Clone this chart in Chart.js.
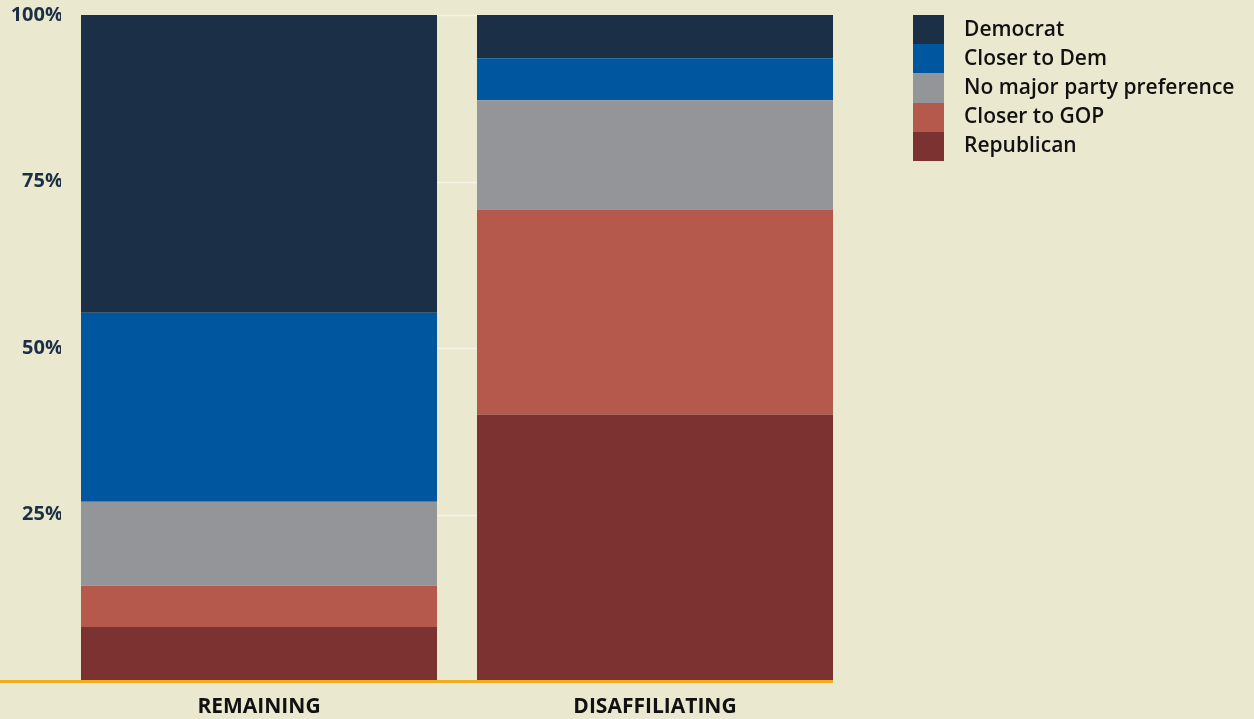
<!DOCTYPE html>
<html>
<head>
<meta charset="utf-8">
<script src="https://cdn.jsdelivr.net/npm/chart.js@4/dist/chart.umd.min.js"></script>
<style>
  html, body { margin: 0; padding: 0; background: #eae8cf; }
  #wrap { position: relative; width: 1254px; height: 719px; }
  #c { position: absolute; left: 0; top: 0; }
  #legend { position: absolute; left: 913px; top: 15px; font-family: "Open Sans", "Noto Sans", sans-serif; font-weight: 600; font-size: 21px; color: #111; }
  .item { display: flex; align-items: center; height: 29.2px; }
  .item span { position: relative; top: -2px; }
  .sw { width: 31px; height: 29.2px; margin-right: 20px; }
</style>
</head>
<body>
<div id="wrap">
  <canvas id="c" width="1254" height="719"></canvas>
  <div id="legend"></div>
</div>
<script>
// Party identification shares (%) by group
const categories = ["REMAINING", "DISAFFILIATING"];
const seriesNames = ["Republican", "Closer to GOP", "No major party preference", "Closer to Dem", "Democrat"];
const republican = [8.1, 40.0];
const closerToGop = [6.2, 30.8];
const noPreference = [12.6, 16.4];
const closerToDem = [28.4, 6.3];
const democrat = [44.7, 6.5];
const yTicks = [25, 50, 75, 100];

const colors = ["#7b3230", "#b5594d", "#939598", "#01579f", "#1b3046"];
const seriesValues = [republican, closerToGop, noPreference, closerToDem, democrat];

const datasets = seriesNames.map((name, i) => ({
  label: name,
  data: seriesValues[i],
  backgroundColor: colors[i],
  borderWidth: 0,
  barPercentage: 1,
  categoryPercentage: 0.899
}));

// Light gridlines drawn only in the gap between the two columns
const gapGrid = {
  id: 'gapGrid',
  beforeDatasetsDraw(chart) {
    const ctx = chart.ctx;
    const y = chart.scales.y;
    const m = chart.getDatasetMeta(0).data;
    const x0 = m[0].x + m[0].width / 2;
    const x1 = m[1].x - m[1].width / 2;
    ctx.save();
    ctx.strokeStyle = '#f6f4e6';
    ctx.lineWidth = 1.5;
    yTicks.forEach(v => {
      const py = Math.round(y.getPixelForValue(v)) + 0.5;
      ctx.beginPath();
      ctx.moveTo(x0, py);
      ctx.lineTo(x1, py);
      ctx.stroke();
    });
    ctx.restore();
  }
};

// Golden baseline running from the page edge to the end of the last column
const baseLine = {
  id: 'baseLine',
  afterDatasetsDraw(chart) {
    const ctx = chart.ctx;
    const y = chart.scales.y.getPixelForValue(0);
    const m = chart.getDatasetMeta(0).data;
    const xEnd = m[m.length - 1].x + m[m.length - 1].width / 2;
    ctx.save();
    ctx.fillStyle = '#f0ae1e';
    ctx.fillRect(0, y - 1, xEnd, 3);
    ctx.restore();
  }
};

new Chart(document.getElementById('c'), {
  type: 'bar',
  data: { labels: categories, datasets },
  plugins: [gapGrid, baseLine],
  options: {
    responsive: false,
    animation: false,
    devicePixelRatio: 1,
    layout: { padding: { top: 15, right: 401, bottom: 0, left: 0 } },
    plugins: { legend: { display: false }, tooltip: { enabled: false } },
    scales: {
      x: {
        stacked: true,
        grid: { display: false, drawTicks: false },
        border: { display: false },
        afterFit(s) { s.height = 38; },
        ticks: {
          padding: 13,
          color: '#111',
          font: { family: '"Open Sans", "Noto Sans", sans-serif', size: 21, weight: 700 }
        }
      },
      y: {
        stacked: true,
        min: 0,
        max: 100,
        afterFit(s) { s.width = 61; },
        grid: { display: false, drawTicks: false },
        border: { display: false },
        afterBuildTicks(s) { s.ticks = yTicks.map(v => ({ value: v })); },
        ticks: {
          padding: -2,
          color: '#1c2f45',
          font: { family: '"Open Sans", "Noto Sans", sans-serif', size: 20, weight: 700 },
          callback: v => v + '%'
        }
      }
    }
  }
});

// Legend, top entry first
const legend = document.getElementById('legend');
for (let i = seriesNames.length - 1; i >= 0; i--) {
  const row = document.createElement('div');
  row.className = 'item';
  const sw = document.createElement('div');
  sw.className = 'sw';
  sw.style.background = colors[i];
  const tx = document.createElement('span');
  tx.textContent = seriesNames[i];
  row.appendChild(sw);
  row.appendChild(tx);
  legend.appendChild(row);
}
</script>
</body>
</html>
